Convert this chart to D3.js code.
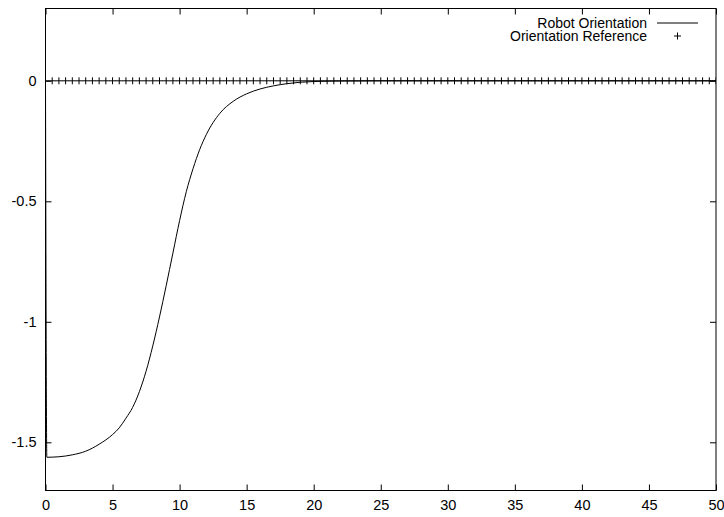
<!DOCTYPE html>
<html>
<head>
<meta charset="utf-8">
<title>Robot Orientation</title>
<script src="https://d3js.org/d3.v7.min.js"></script>
<style>
  body { margin: 0; background: #fff; }
  text { font-family: "Liberation Sans", Arial, sans-serif; font-size: 14.5px; fill: #000; }
</style>
</head>
<body>
<svg width="724" height="517"></svg>
<script>
// dati
var tempo = [0, 0.1, 1, 2, 3, 4, 5, 5.5, 6, 6.5, 7, 7.5, 8, 8.5, 9, 9.5, 10, 10.5, 11, 11.5, 12, 13, 14, 15, 16, 17, 18, 19, 20, 22, 25, 30, 40, 50];
var orientamento = [0, -1.562, -1.560, -1.552, -1.537, -1.508, -1.468, -1.44, -1.40, -1.355, -1.29, -1.205, -1.10, -0.98, -0.85, -0.715, -0.58, -0.46, -0.365, -0.285, -0.222, -0.135, -0.085, -0.054, -0.034, -0.021, -0.012, -0.006, -0.003, -0.001, 0, 0, 0, 0];

var tempoRif = [0, 0.5, 1, 1.5, 2, 2.5, 3, 3.5, 4, 4.5, 5, 5.5, 6, 6.5, 7, 7.5, 8, 8.5, 9, 9.5,
  10, 10.5, 11, 11.5, 12, 12.5, 13, 13.5, 14, 14.5, 15, 15.5, 16, 16.5, 17, 17.5, 18, 18.5, 19, 19.5,
  20, 20.5, 21, 21.5, 22, 22.5, 23, 23.5, 24, 24.5, 25, 25.5, 26, 26.5, 27, 27.5, 28, 28.5, 29, 29.5,
  30, 30.5, 31, 31.5, 32, 32.5, 33, 33.5, 34, 34.5, 35, 35.5, 36, 36.5, 37, 37.5, 38, 38.5, 39, 39.5,
  40, 40.5, 41, 41.5, 42, 42.5, 43, 43.5, 44, 44.5, 45, 45.5, 46, 46.5, 47, 47.5, 48, 48.5, 49, 49.5, 50];
var riferimento = [0, 0, 0, 0, 0, 0, 0, 0, 0, 0, 0, 0, 0, 0, 0, 0, 0, 0, 0, 0,
  0, 0, 0, 0, 0, 0, 0, 0, 0, 0, 0, 0, 0, 0, 0, 0, 0, 0, 0, 0,
  0, 0, 0, 0, 0, 0, 0, 0, 0, 0, 0, 0, 0, 0, 0, 0, 0, 0, 0, 0,
  0, 0, 0, 0, 0, 0, 0, 0, 0, 0, 0, 0, 0, 0, 0, 0, 0, 0, 0, 0,
  0, 0, 0, 0, 0, 0, 0, 0, 0, 0, 0, 0, 0, 0, 0, 0, 0, 0, 0, 0, 0];

var tickX = [0, 5, 10, 15, 20, 25, 30, 35, 40, 45, 50];
var tickY = [0, -0.5, -1, -1.5];

var etichette = ["Robot Orientation", "Orientation Reference"];

// dimensioni
var sinistra = 45.5, destra = 716, alto = 8.5, basso = 490.5;

var svg = d3.select("svg");

var scalaX = d3.scaleLinear().domain([0, 50]).range([sinistra, destra]);
var scalaY = d3.scaleLinear().domain([-1.7, 0.3]).range([basso, alto]);

svg.append("clipPath").attr("id", "clip")
  .append("rect")
  .attr("x", sinistra).attr("y", alto)
  .attr("width", destra - sinistra).attr("height", basso - alto);

// assi (tacche verso l'interno, come gnuplot)
var asseX = svg.append("g")
  .attr("transform", "translate(0," + basso + ")")
  .call(d3.axisBottom(scalaX).tickValues(tickX).tickSize(-6).tickSizeOuter(0).tickPadding(9.5).tickFormat(d3.format("d")));
var asseXsu = svg.append("g")
  .attr("transform", "translate(0," + alto + ")")
  .call(d3.axisTop(scalaX).tickValues(tickX).tickSize(-6).tickSizeOuter(0).tickFormat(""));
var asseY = svg.append("g")
  .attr("transform", "translate(" + sinistra + ",0)")
  .call(d3.axisLeft(scalaY).tickValues(tickY).tickSize(-6).tickSizeOuter(0).tickPadding(9)
    .tickFormat(function (d) { return d === 0 ? "0" : String(d).replace("−", "-"); }));
var asseYdx = svg.append("g")
  .attr("transform", "translate(" + destra + ",0)")
  .call(d3.axisRight(scalaY).tickValues(tickY).tickSize(-6).tickSizeOuter(0).tickFormat(""));

[asseX, asseXsu, asseY, asseYdx].forEach(function (a) {
  a.select(".domain").remove();
  a.selectAll("line").attr("stroke", "#000");
  a.selectAll("text").style("font-size", "14.5px").attr("font-family", null);
});

// cornice
svg.append("rect")
  .attr("x", sinistra).attr("y", alto)
  .attr("width", destra - sinistra).attr("height", basso - alto)
  .attr("fill", "none").attr("stroke", "#000").attr("stroke-width", 1);

// riferimento: croci
var croce = 3.5;
var g = svg.append("g").attr("clip-path", "url(#clip)");
g.selectAll(".croce")
  .data(tempoRif.map(function (t, i) { return [t, riferimento[i]]; }))
  .enter().append("path")
  .attr("class", "croce")
  .attr("d", function (d) {
    var x = scalaX(d[0]), y = scalaY(d[1]);
    return "M" + (x - croce) + "," + y + "H" + (x + croce) + "M" + x + "," + (y - croce) + "V" + (y + croce);
  })
  .attr("stroke", "#000").attr("stroke-width", 1);

// orientamento del robot
var linea = d3.line()
  .x(function (d) { return scalaX(d[0]); })
  .y(function (d) { return scalaY(d[1]); })
  .curve(d3.curveMonotoneX);

svg.append("path")
  .datum(tempo.map(function (t, i) { return [t, orientamento[i]]; }))
  .attr("clip-path", "url(#clip)")
  .attr("d", linea)
  .attr("fill", "none")
  .attr("stroke", "#000")
  .attr("stroke-width", 1);

// legenda
svg.append("text").attr("x", 647).attr("y", 27.5).attr("text-anchor", "end").style("font-size", "14px").text(etichette[0]);
svg.append("text").attr("x", 647).attr("y", 41).attr("text-anchor", "end").style("font-size", "14px").text(etichette[1]);
svg.append("line")
  .attr("x1", 657).attr("x2", 698).attr("y1", 23).attr("y2", 23)
  .attr("stroke", "#000");
svg.append("path")
  .attr("d", "M" + (677.5 - croce) + ",36H" + (677.5 + croce) + "M677.5," + (36 - croce) + "V" + (36 + croce))
  .attr("stroke", "#000");
</script>
</body>
</html>
